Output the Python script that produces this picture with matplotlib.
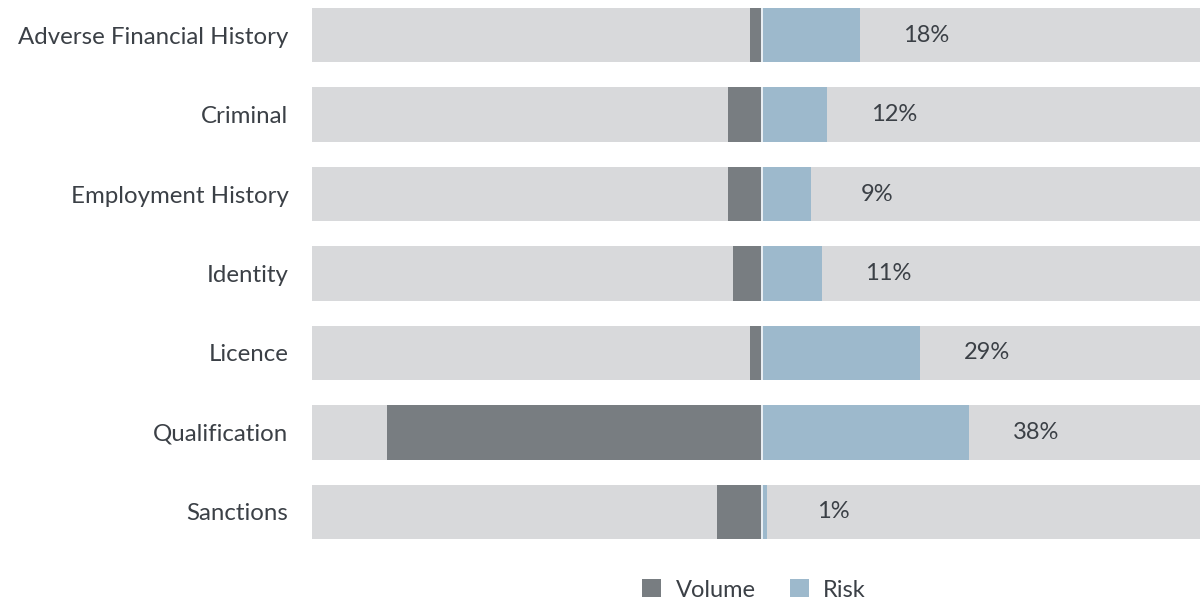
import numpy as np
import matplotlib.pyplot as plt
from matplotlib.patches import Patch

plt.rcParams['font.family'] = ['Lato', 'DejaVu Sans']

# --- data ---
categories = ["Adverse Financial History", "Criminal", "Employment History",
              "Identity", "Licence", "Qualification", "Sanctions"]
volume = [2.1, 6.1, 6.1, 5.2, 2.1, 68.5, 8.1]
risk = [18, 12, 9, 11, 29, 38, 1]
risk_labels = ["18%", "12%", "9%", "11%", "29%", "38%", "1%"]

# axis span of the grey track bars
track_left = -82.2
track_right = 80.2

c_track = '#d8d9db'
c_volume = '#787d81'
c_risk = '#9db9cc'
c_text = '#3b4046'

W, H = 1203, 600
fig = plt.figure(figsize=(W / 100, H / 100), dpi=100)
ax = fig.add_axes([312 / W, 1 - 539 / H, (1200 - 312) / W, (539 - 8) / H])

y = np.arange(len(categories))
bh = 0.68

ax.barh(y, track_right - track_left, left=track_left, height=bh, color=c_track, lw=0)
ax.barh(y, [-v for v in volume], left=0, height=bh, color=c_volume, lw=0)
ax.barh(y, risk, left=0, height=bh, color=c_risk, lw=0)
for yi in y:
    ax.plot([0.05, 0.05], [yi - bh / 2, yi + bh / 2], color='white', lw=1.1)

for yi, r, lab in zip(y, risk, risk_labels):
    ax.text(r + 12.2, yi, lab, ha='center', va='center', fontsize=17, color=c_text)

ax.set_xlim(track_left, track_right)
ax.set_ylim(len(categories) - 1 + bh / 2, -bh / 2)
ax.set_yticks(y)
ax.set_yticklabels(categories, fontsize=17.3, color=c_text)
ax.tick_params(axis='y', length=0, pad=17)
ax.set_xticks([])
for s in ax.spines.values():
    s.set_visible(False)

handles = [Patch(facecolor=c_volume, label='Volume'),
           Patch(facecolor=c_risk, label='Risk')]
leg = fig.legend(handles=handles, loc='center', bbox_to_anchor=(754 / W, 1 - 590 / H),
                 ncol=2, frameon=False, fontsize=17, handlelength=0.8, handleheight=0.8,
                 handletextpad=0.6, columnspacing=1.45)
for t in leg.get_texts():
    t.set_color(c_text)

fig.savefig('out.png', dpi=100)
